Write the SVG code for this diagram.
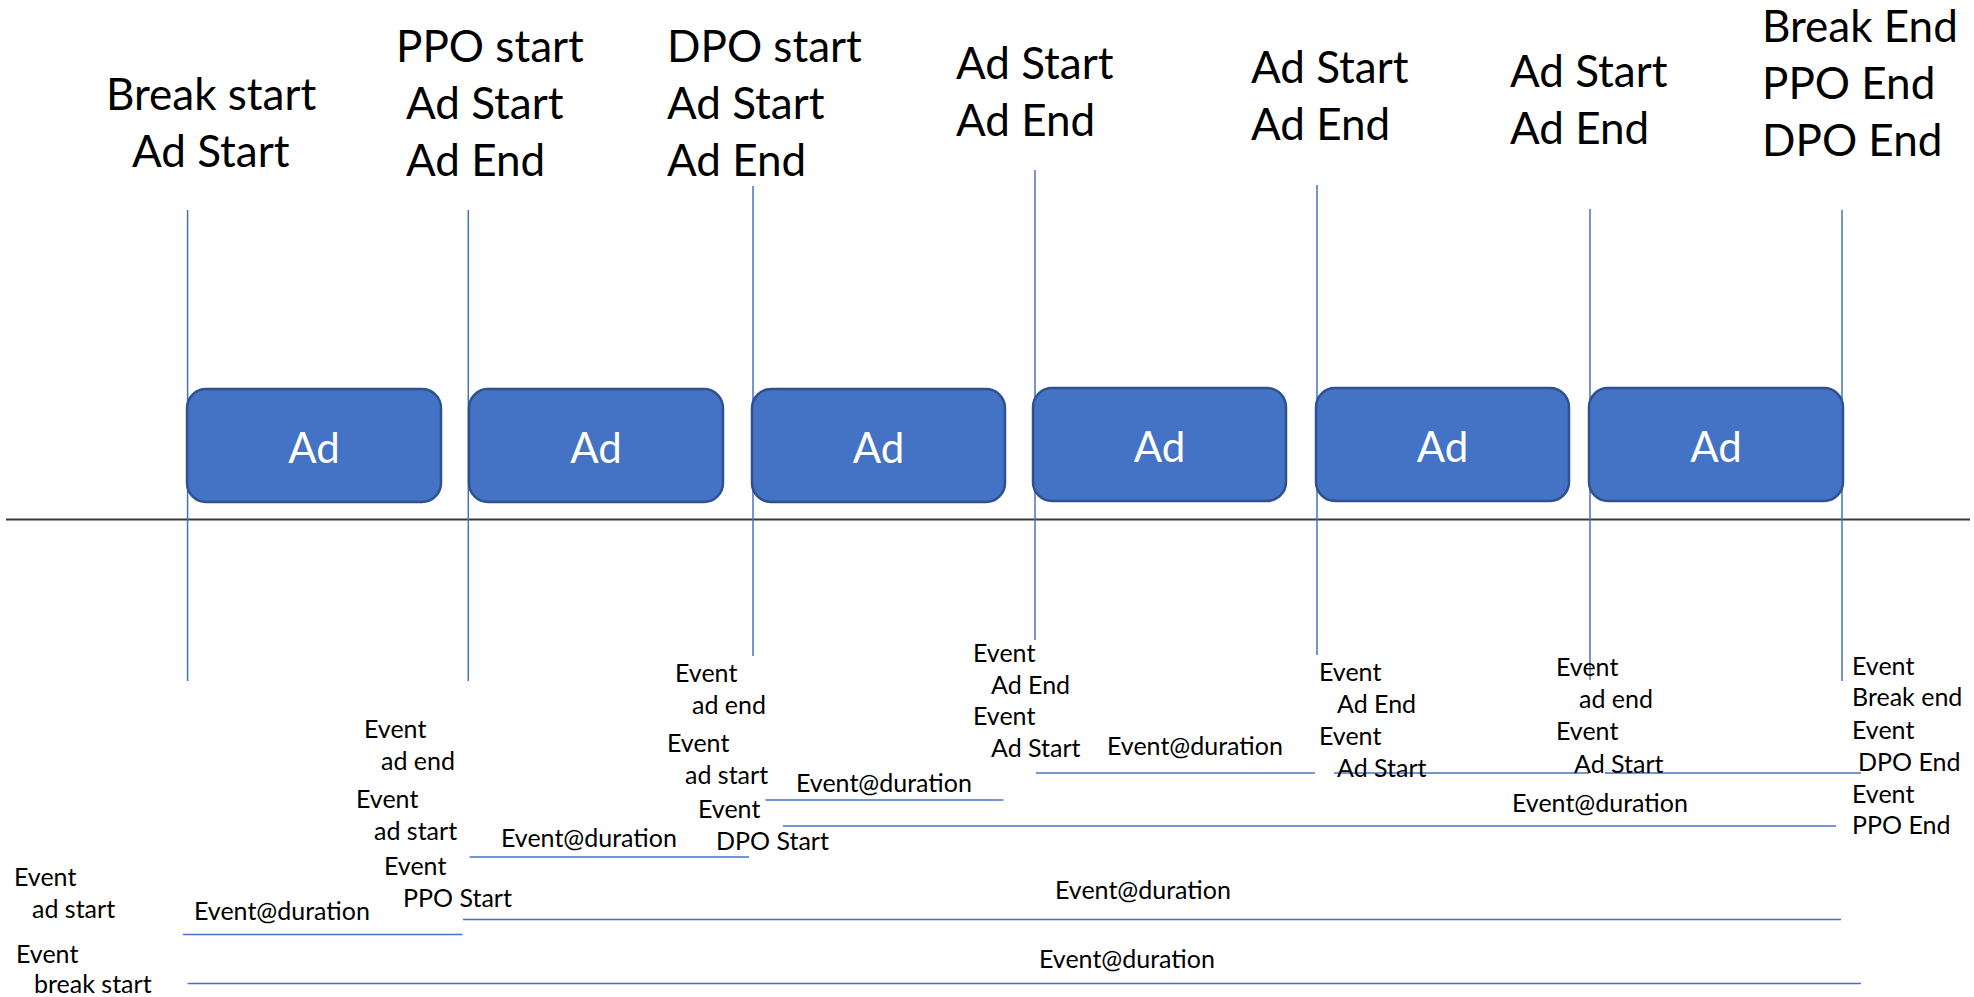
<svg xmlns="http://www.w3.org/2000/svg" width="1974" height="997" viewBox="0 0 1974 997">
  <style>
    .bg { fill: #ffffff; }
    .head { font-family: Lato, "Liberation Sans", sans-serif; font-size: 44px; fill: #000000; }
    .ev { font-family: Lato, "Liberation Sans", sans-serif; font-size: 25px; fill: #000000; }
    .ad rect { fill: #4472C4; stroke: #2F528F; stroke-width: 2.5; }
    .ad text { font-family: Lato, "Liberation Sans", sans-serif; font-size: 42px; fill: #ffffff; text-anchor: middle; }
    .tick { stroke: #4472C4; stroke-width: 1.5; fill: none; }
    .span { stroke: #4472C4; stroke-width: 1.6; fill: none; }
    .axis { stroke: #3A3A3A; stroke-width: 2; fill: none; }
  </style>
  <rect class="bg" x="0" y="0" width="1974" height="997"/>

  <!-- timeline axis, event ticks and duration spans -->
  <g id="connectors">
    <line class="axis" x1="6" y1="519.5" x2="1970" y2="519.5"/>
    <line class="tick" x1="187.6" y1="210" x2="187.6" y2="681"/>
    <line class="tick" x1="468.3" y1="210" x2="468.3" y2="681"/>
    <line class="tick" x1="753" y1="186" x2="753" y2="656"/>
    <line class="tick" x1="1035" y1="170" x2="1035" y2="640"/>
    <line class="tick" x1="1317" y1="185" x2="1317" y2="655"/>
    <line class="tick" x1="1590" y1="209" x2="1590" y2="680"/>
    <line class="tick" x1="1842" y1="210" x2="1842" y2="681"/>

    <line class="span" x1="183" y1="934.5" x2="462.5" y2="934.5"/>
    <line class="span" x1="469.6" y1="857" x2="749" y2="857"/>
    <line class="span" x1="765.5" y1="800" x2="1003.4" y2="800"/>
    <line class="span" x1="1036" y1="773" x2="1315" y2="773"/>
    <line class="span" x1="1334" y1="773" x2="1589" y2="773"/>
    <line class="span" x1="1605" y1="773" x2="1861" y2="773"/>
    <line class="span" x1="783" y1="826" x2="1836" y2="826"/>
    <line class="span" x1="463" y1="919.5" x2="1841" y2="919.5"/>
    <line class="span" x1="187.6" y1="983.5" x2="1861" y2="983.5"/>
  </g>

  <!-- ad slots -->
  <g id="ad1" class="ad"><rect x="187" y="389" width="254" height="113" rx="19"/><text x="314" y="463">Ad</text></g>
  <g id="ad2" class="ad"><rect x="469" y="389" width="254" height="113" rx="19"/><text x="596" y="463">Ad</text></g>
  <g id="ad3" class="ad"><rect x="752" y="389" width="253" height="113" rx="19"/><text x="878.5" y="463">Ad</text></g>
  <g id="ad4" class="ad"><rect x="1033" y="388" width="253" height="113" rx="19"/><text x="1159.5" y="462">Ad</text></g>
  <g id="ad5" class="ad"><rect x="1316" y="388" width="253" height="113" rx="19"/><text x="1442.5" y="462">Ad</text></g>
  <g id="ad6" class="ad"><rect x="1589" y="388" width="254" height="113" rx="19"/><text x="1716" y="462">Ad</text></g>

  <!-- marker headings above the timeline -->
  <g id="head1" class="head">
    <text x="106" y="110">Break start</text>
    <text x="132" y="167">Ad Start</text>
  </g>
  <g id="head2" class="head">
    <text x="396" y="62">PPO start</text>
    <text x="406" y="119">Ad Start</text>
    <text x="406" y="176">Ad End</text>
  </g>
  <g id="head3" class="head">
    <text x="667" y="62">DPO start</text>
    <text x="667" y="119">Ad Start</text>
    <text x="667" y="176">Ad End</text>
  </g>
  <g id="head4" class="head">
    <text x="956" y="79">Ad Start</text>
    <text x="956" y="136">Ad End</text>
  </g>
  <g id="head5" class="head">
    <text x="1251" y="83">Ad Start</text>
    <text x="1251" y="140">Ad End</text>
  </g>
  <g id="head6" class="head">
    <text x="1510" y="87">Ad Start</text>
    <text x="1510" y="144">Ad End</text>
  </g>
  <g id="head7" class="head">
    <text x="1762" y="42">Break End</text>
    <text x="1762" y="99">PPO End</text>
    <text x="1762" y="156">DPO End</text>
  </g>

  <!-- event labels below the timeline -->
  <g id="ev-start" class="ev">
    <text x="14" y="886">Event</text>
    <text x="32" y="918">ad start</text>
    <text x="16" y="963">Event</text>
    <text x="34" y="993">break start</text>
  </g>
  <g id="ev2" class="ev">
    <text x="364" y="738">Event</text>
    <text x="381" y="770">ad end</text>
    <text x="356" y="808">Event</text>
    <text x="374" y="840">ad start</text>
    <text x="384" y="875">Event</text>
    <text x="403" y="907">PPO Start</text>
  </g>
  <g id="ev3" class="ev">
    <text x="675" y="682">Event</text>
    <text x="692" y="714">ad end</text>
    <text x="667" y="752">Event</text>
    <text x="685" y="784">ad start</text>
    <text x="698" y="818">Event</text>
    <text x="716" y="850">DPO Start</text>
  </g>
  <g id="ev4" class="ev">
    <text x="973" y="662">Event</text>
    <text x="991" y="694">Ad End</text>
    <text x="973" y="725">Event</text>
    <text x="991" y="757">Ad Start</text>
  </g>
  <g id="ev5" class="ev">
    <text x="1319" y="681">Event</text>
    <text x="1337" y="713">Ad End</text>
    <text x="1319" y="745">Event</text>
    <text x="1337" y="777">Ad Start</text>
  </g>
  <g id="ev6" class="ev">
    <text x="1556" y="676">Event</text>
    <text x="1579" y="708">ad end</text>
    <text x="1556" y="740">Event</text>
    <text x="1574" y="773">Ad Start</text>
  </g>
  <g id="ev7" class="ev">
    <text x="1852" y="675">Event</text>
    <text x="1852" y="706">Break end</text>
    <text x="1852" y="739">Event</text>
    <text x="1858" y="771">DPO End</text>
    <text x="1852" y="803">Event</text>
    <text x="1852" y="834">PPO End</text>
  </g>

  <!-- duration labels -->
  <g id="durations" class="ev">
    <text x="194" y="920">Event@duration</text>
    <text x="501" y="847">Event@duration</text>
    <text x="796" y="792">Event@duration</text>
    <text x="1107" y="755">Event@duration</text>
    <text x="1512" y="812">Event@duration</text>
    <text x="1055" y="899">Event@duration</text>
    <text x="1039" y="968">Event@duration</text>
  </g>
</svg>
